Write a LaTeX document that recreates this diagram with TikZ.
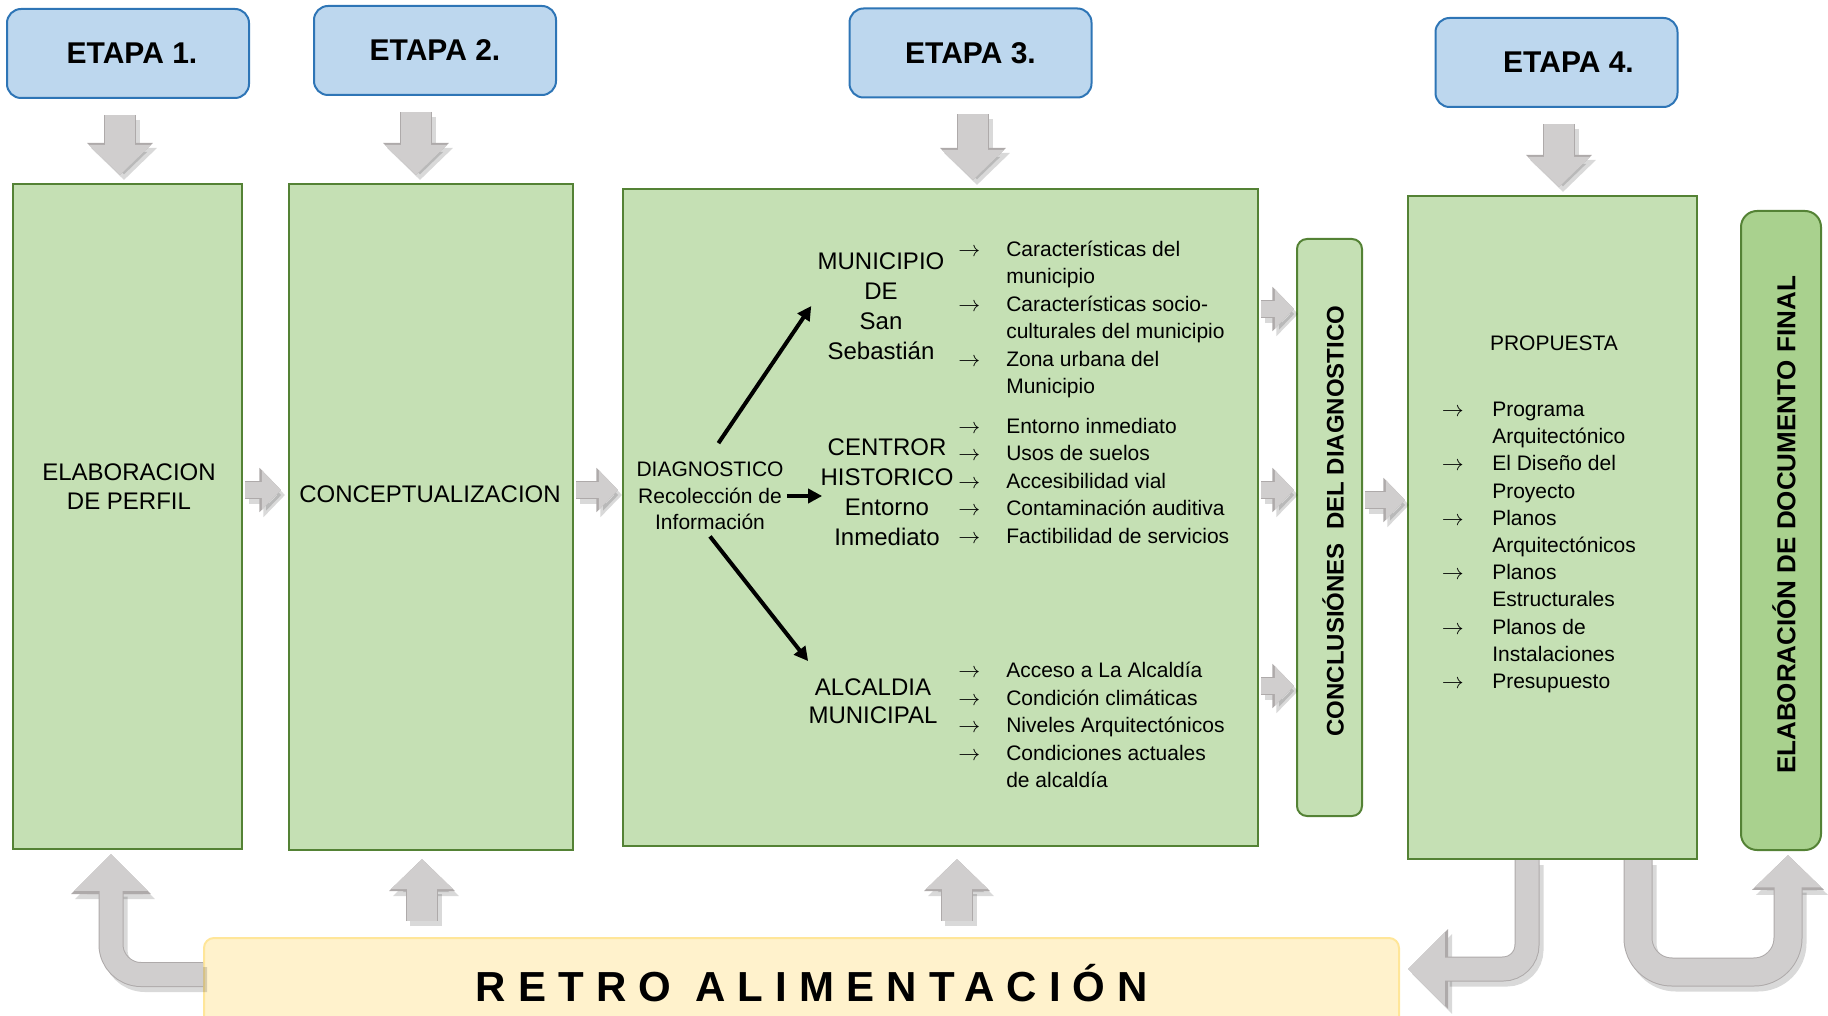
\documentclass[tikz,border=0pt]{standalone}
\usepackage{fontspec}
\setmainfont{Liberation Sans}
\usetikzlibrary{positioning, arrows.meta}

\definecolor{etapafill}{HTML}{BDD7EE}
\definecolor{etapaline}{HTML}{2E75B6}
\definecolor{greenfill}{HTML}{C5E0B4}
\definecolor{greenline}{HTML}{548235}
\definecolor{elabfill}{HTML}{A9D18E}
\definecolor{retrofill}{HTML}{FFF2CC}
\definecolor{retroline}{HTML}{FFE699}
\definecolor{arrowfill}{HTML}{D0CECE}
\definecolor{arrowline}{HTML}{AEAAAA}

\begin{document}
\begin{tikzpicture}[x=0.5pt, y=-0.5pt, every node/.style={text centered, align=center, inner sep=3pt},
  etapa/.style={draw=etapaline, fill=etapafill, line width=1pt, rounded corners=7pt, minimum width=121pt, minimum height=44.5pt, font=\bfseries\fontsize{15}{17}\selectfont},
  stagebox/.style={draw=greenline, fill=greenfill, line width=1pt},
  bigtext/.style={font=\fontsize{12}{15}\selectfont},
  smalltext/.style={font=\fontsize{10.5}{13.3}\selectfont},
  listtext/.style={inner sep=0pt, anchor=base west, align=left, font=\fontsize{10.5}{13.75}\selectfont},
  sidetext/.style={rotate=90, font=\bfseries\fontsize{12}{14}\selectfont},
  blackarrow/.style={line width=2pt, -{Triangle[length=7pt,width=7pt]}},
  downblock/.style={draw=arrowfill, line width=15pt, -{Triangle[length=0pt 1, width=0pt 2]}, shorten <=8pt, shorten >=4pt,
    preaction={draw=black, opacity=0.15, line width=16pt, transform canvas={shift={(2pt,-2.5pt)}}},
    preaction={draw=arrowline, line width=16pt}},
  sideblock/.style={draw=arrowfill, line width=8pt, -{Triangle[length=0pt 1.2, width=0pt 2.4]}, shorten <=1pt, shorten >=1pt,
    preaction={draw=black, opacity=0.15, line width=9pt, transform canvas={shift={(2pt,-2.5pt)}}},
    preaction={draw=arrowline, line width=9pt}},
  bentblock/.style={draw=arrowfill, line width=11.5pt, rounded corners=15pt, -{Triangle[length=0pt 1.6, width=0pt 3.1]}, shorten >=2pt,
    preaction={draw=black, opacity=0.15, line width=12.5pt, transform canvas={shift={(2pt,-2.5pt)}}},
    preaction={draw=arrowline, line width=12.5pt}},
  ublock/.style={draw=arrowfill, line width=13.5pt, rounded corners=17pt, -{Triangle[length=0pt 1.2, width=0pt 2.4]}, shorten >=2pt,
    preaction={draw=black, opacity=0.15, line width=14.5pt, transform canvas={shift={(2pt,-2.5pt)}}},
    preaction={draw=arrowline, line width=14.5pt}}]

\def\arrowgap{13pt}
\def\propgap{14.25pt}

  \useasboundingbox (0,0) rectangle (1828,1016);

  % Stages
  \node (e1) [etapa] at (128,53.5) {\hspace*{4pt}ETAPA 1.};
  \node (e2) [etapa] at (435,50.5) {ETAPA 2.};
  \node (e3) [etapa] at (970.5,53) {ETAPA 3.};
  \node (e4) [etapa] at (1556.5,62.5) {\hspace*{12pt}ETAPA 4.};

  % Boxes
  \node (perfil) [stagebox, minimum width=114.5pt, minimum height=332.5pt] at (127.5,516.5) {};
  \node (concept) [stagebox, minimum width=142pt, minimum height=333pt] at (431,517) {};
  \node (diagbox) [stagebox, minimum width=317.5pt, minimum height=328.5pt] at (940.5,517.5) {};
  \node (concl) [stagebox, rounded corners=5pt, minimum width=32.5pt, minimum height=288.5pt] at (1329.5,527.5) {};
  \node (prop) [stagebox, minimum width=144.5pt, minimum height=331.5pt] at (1552.5,527.5) {};
  \node (elab) [stagebox, fill=elabfill, rounded corners=8pt, minimum width=40pt, minimum height=319.5pt] at (1781,530.5) {};
  \node (retro) [draw=retroline, fill=retrofill, line width=1pt, rounded corners=5pt, minimum width=597.5pt, minimum height=46pt] at (801.5,984) {};

  % Texts
  \node (perfiltxt) [bigtext, font=\fontsize{12}{14.5}\selectfont] at (129,487) {ELABORACION\\DE PERFIL};
  \node (concepttxt) [bigtext] at (430,494) {CONCEPTUALIZACION};
  \node (concltxt) [sidetext] at (1333,521) {CONCLUSIÓNES\ \ DEL DIAGNOSTICO};
  \node (elabtxt) [sidetext, font=\bfseries\fontsize{13}{15}\selectfont] at (1784,525) {ELABORACIÓN DE DOCUMENTO FINAL};
  \node (retrotxt) [font=\bfseries\fontsize{21}{25}\selectfont\addfontfeature{LetterSpace=29}] at (812,983) {RETRO ALIMENTACIÓN};

  % Diagnostico
  \node (diag) [smalltext] at (710,496) {DIAGNOSTICO\\Recolección de\\Información};
  \node (muni) [bigtext] at (881,306) {MUNICIPIO\\DE\\San\\Sebastián};
  \node (centro) [bigtext] at (887,492) {CENTROR\\HISTORICO\\Entorno\\Inmediato};
  \node (alc) [bigtext, font=\fontsize{12}{14}\selectfont] at (873,701) {ALCALDIA\\MUNICIPAL};

  \node (munilist) [listtext] at (958,256.5) {\begin{tabular}[t]{@{}l@{\hspace{\arrowgap}}l@{}}
    $\rightarrow$ & Características del\\
     & municipio\\
    $\rightarrow$ & Características socio-\\
     & culturales del municipio\\
    $\rightarrow$ & Zona urbana del\\
     & Municipio
  \end{tabular}};
  \node (centrolist) [listtext] at (958,433.5) {\begin{tabular}[t]{@{}l@{\hspace{\arrowgap}}l@{}}
    $\rightarrow$ & Entorno inmediato\\
    $\rightarrow$ & Usos de suelos\\
    $\rightarrow$ & Accesibilidad vial\\
    $\rightarrow$ & Contaminación auditiva\\
    $\rightarrow$ & Factibilidad de servicios
  \end{tabular}};
  \node (alclist) [listtext] at (958,677.5) {\begin{tabular}[t]{@{}l@{\hspace{\arrowgap}}l@{}}
    $\rightarrow$ & Acceso a La Alcaldía\\
    $\rightarrow$ & Condición climáticas\\
    $\rightarrow$ & Niveles Arquitectónicos\\
    $\rightarrow$ & Condiciones actuales\\
     & de alcaldía
  \end{tabular}};

  % Propuesta
  \node (proptxt) [smalltext] at (1554,343) {PROPUESTA};
  \node (proplist) [listtext, font=\fontsize{10.5}{13.6}\selectfont] at (1441.5,416.5) {\begin{tabular}[t]{@{}l@{\hspace{\propgap}}l@{}}
    $\rightarrow$ & Programa\\
     & Arquitectónico\\
    $\rightarrow$ & El Diseño del\\
     & Proyecto\\
    $\rightarrow$ & Planos\\
     & Arquitectónicos\\
    $\rightarrow$ & Planos\\
     & Estructurales\\
    $\rightarrow$ & Planos de\\
     & Instalaciones\\
    $\rightarrow$ & Presupuesto
  \end{tabular}};

  % Arrows
  \draw[blackarrow, shorten <=7.5pt] (diag.north) -- (muni.west);
  \draw[blackarrow, shorten <=-1.5pt, shorten >=-4pt] (diag.east) -- (diag.east -| centro.west);
  \draw[blackarrow] (diag.south) -- ([shift={(3pt,5.5pt)}]alc.north west);

  \draw[downblock] (e1.south -| 120,0) -- (perfil.north -| 120,0);
  \draw[downblock] (e2.south -| 416,0) -- (concept.north -| 416,0);
  \draw[downblock] (e3.south -| 973,0) -- (diagbox.north -| 973,0);
  \draw[downblock] (e4.south -| 1559,0) -- (prop.north -| 1559,0);

  \draw[sideblock, shorten >=3.5pt] (perfil.east |- 0,490) -- (concept.west |- 0,490);
  \draw[sideblock, shorten >=2pt] (concept.east |- 0,490) -- (diagbox.west |- 0,490);
  \draw[sideblock] (diagbox.east |- 0,309) -- (concl.west |- 0,309);
  \draw[sideblock] (diagbox.east |- 0,490) -- (concl.west |- 0,490);
  \draw[sideblock] (diagbox.east |- 0,686) -- (concl.west |- 0,686);
  \draw[sideblock] (concl.east |- 0,500) -- (prop.west |- 0,500);

  % Feedback
  \draw[downblock] (retro.north -| 422,0) -- (concept.south -| 422,0);
  \draw[downblock, shorten >=6pt] (retro.north -| 957,0) -- (diagbox.south -| 957,0);
  \draw[bentblock] (retro.west |- 0,974.5) -| (perfil.south -| 111,0);
  \draw[bentblock, rounded corners=12pt, shorten >=4pt] (prop.south -| 1527,0) |- (retro.east |- 0,969);
  \draw[ublock] (prop.south -| 1638,0) |- (1788,972) -- (elab.south -| 1788,0);

\end{tikzpicture}
\end{document}
